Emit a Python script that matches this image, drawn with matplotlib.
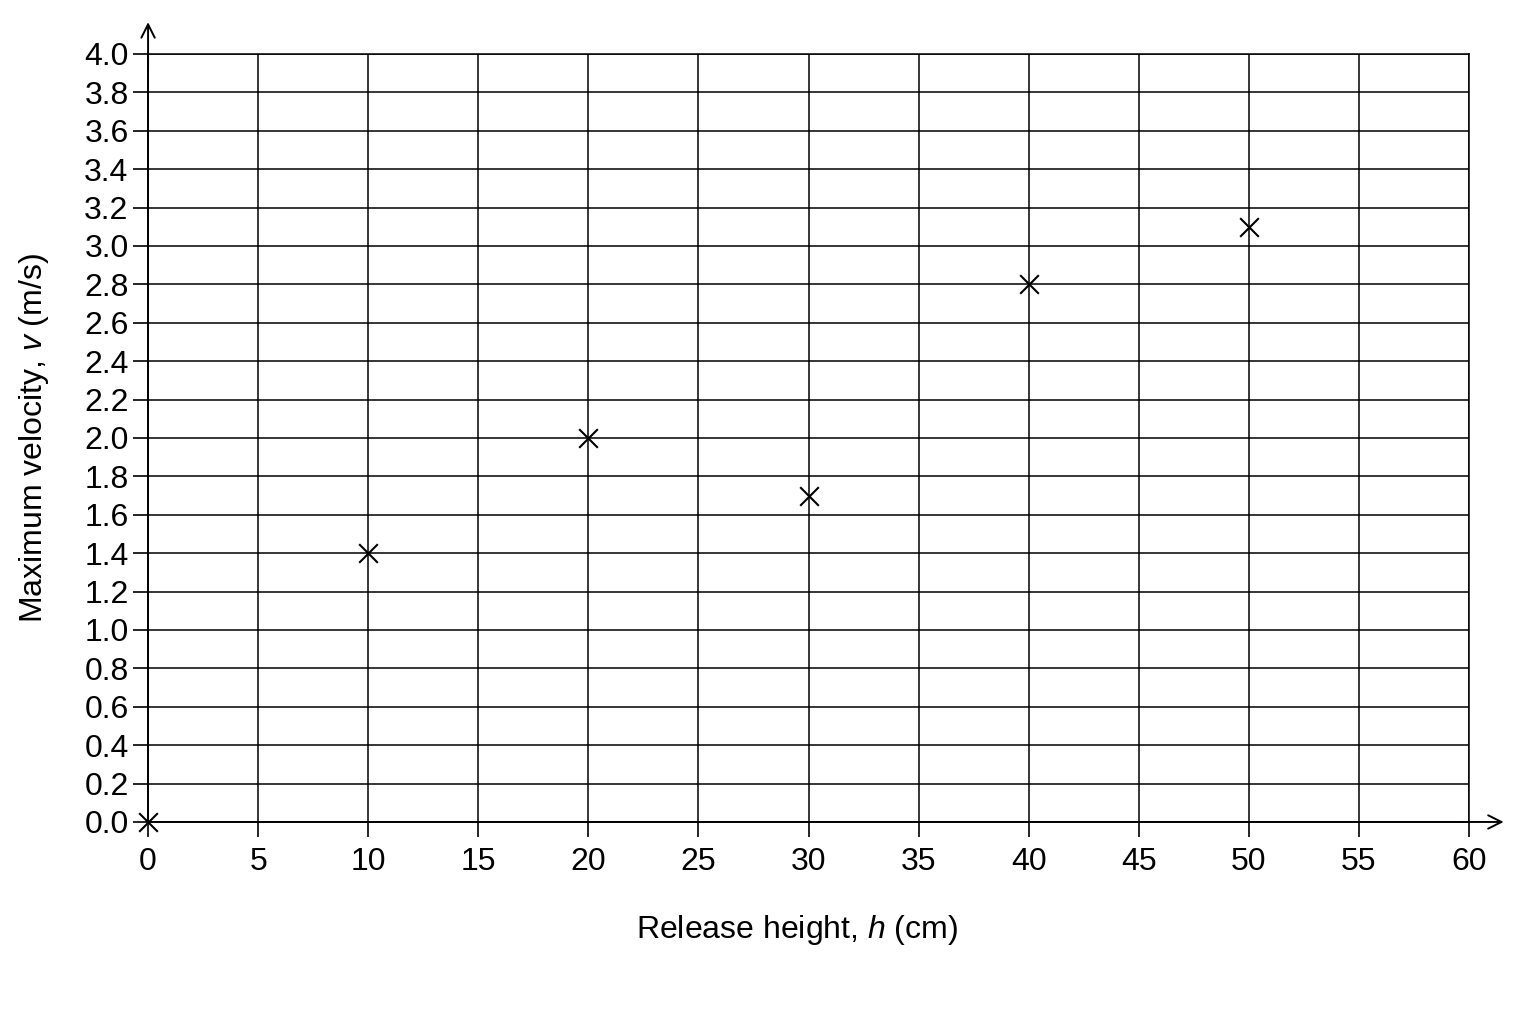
import matplotlib
matplotlib.use('Agg')
import matplotlib.pyplot as plt
import numpy as np

# data
release_height = [0, 10, 20, 30, 40, 50]        # cm
max_velocity = [0.0, 1.4, 2.0, 1.7, 2.8, 3.1]   # m/s

x_ticks = np.arange(0, 61, 5)
y_ticks = np.arange(0, 4.01, 0.2)

plt.rcParams['font.family'] = 'Liberation Sans'
plt.rcParams['mathtext.fontset'] = 'custom'
plt.rcParams['mathtext.it'] = 'Liberation Sans:italic'
plt.rcParams['mathtext.rm'] = 'Liberation Sans'

fig = plt.figure(figsize=(15.36, 10.24), dpi=100)
ax = fig.add_axes([0.0964, 0.1973, 0.86, 0.7500])

ax.set_xlim(0, 60)
ax.set_ylim(0, 4.0)
ax.set_xticks(x_ticks)
ax.set_yticks(y_ticks)
ax.set_yticklabels(['%.1f' % v for v in y_ticks])
ax.grid(True, color='black', linewidth=1.1)
ax.set_axisbelow(True)

for s in ['top', 'right']:
    ax.spines[s].set_linewidth(1.1)
for s in ['left', 'bottom']:
    ax.spines[s].set_linewidth(1.4)

ax.tick_params(axis='both', direction='out', width=1.2, length=11, labelsize=23, pad=7)
ax.tick_params(axis='y', pad=3)

# axis arrows
ax.annotate('', xy=(61.7, 0), xytext=(59.5, 0), annotation_clip=False,
            arrowprops=dict(arrowstyle='->', lw=1.4, color='black', mutation_scale=24))
ax.annotate('', xy=(0, 4.18), xytext=(0, 3.9), annotation_clip=False,
            arrowprops=dict(arrowstyle='->', lw=1.4, color='black', mutation_scale=24))

ax.scatter(release_height, max_velocity, marker='x', s=180, color='black', linewidths=1.5, zorder=5, clip_on=False)

ax.set_xlabel('Release height, $h$ (cm)', fontsize=23, labelpad=22)
ax.set_ylabel('Maximum velocity, $v$ (m/s)', fontsize=23, labelpad=24)
ax.xaxis.set_label_coords(0.491, -0.118)

fig.savefig('out.png', dpi=100)
plt.close()
